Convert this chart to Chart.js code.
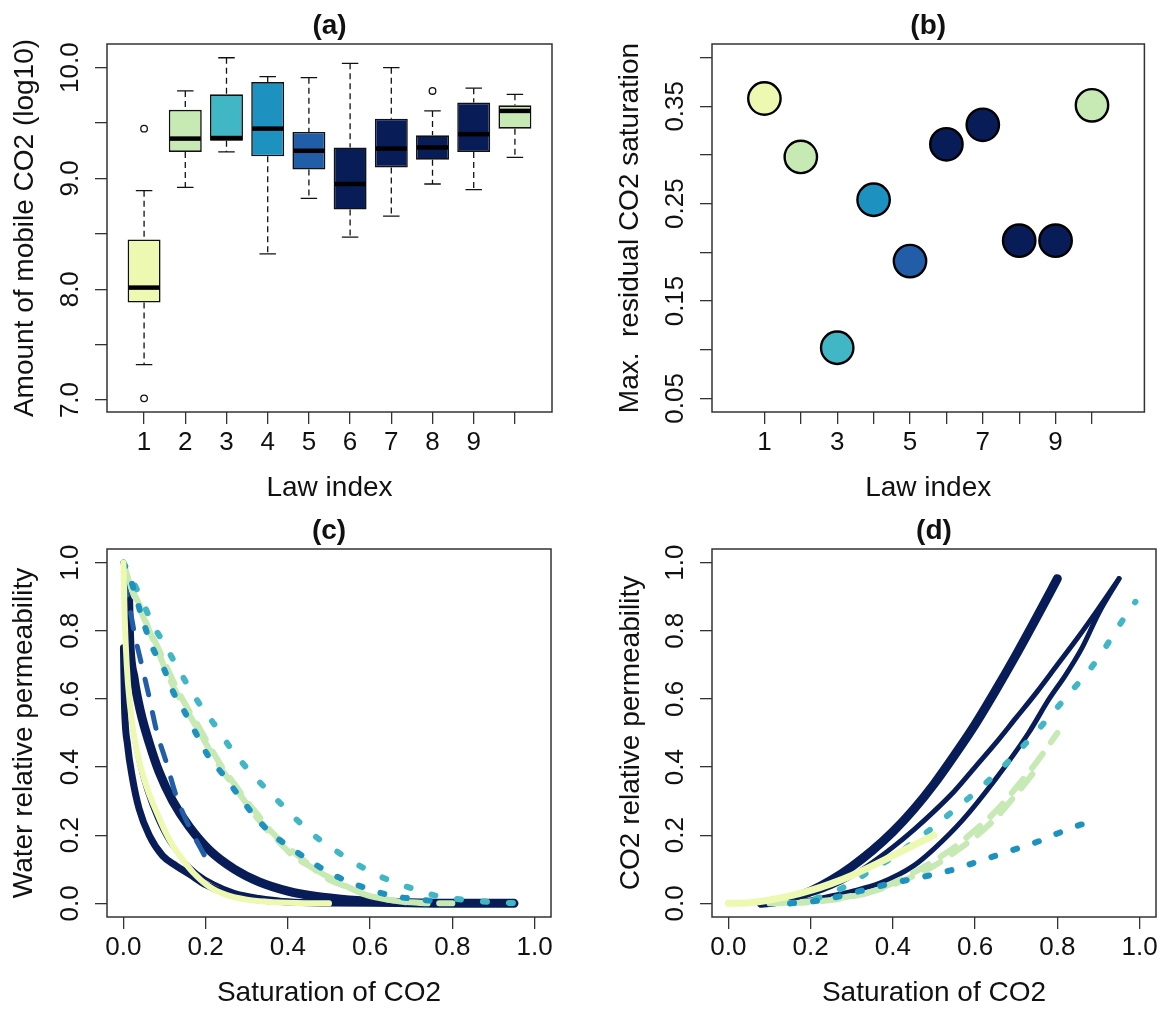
<!DOCTYPE html>
<html>
<head>
<meta charset="utf-8">
<script src="https://cdn.jsdelivr.net/npm/chart.js@4.4.1/dist/chart.umd.min.js"></script>
<style>
  html, body { margin: 0; padding: 0; background: #fff; }
  #fig { position: relative; width: 1163px; height: 1010px; }
  #fig canvas { position: absolute; }
</style>
</head>
<body>
<div id="fig">
  <canvas id="panelA" width="581" height="505" style="left:0;top:0"></canvas>
  <canvas id="panelB" width="582" height="505" style="left:581px;top:0"></canvas>
  <canvas id="panelC" width="581" height="505" style="left:0;top:505px"></canvas>
  <canvas id="panelD" width="582" height="505" style="left:581px;top:505px"></canvas>
</div>
<script>
// ---- laws and their colours ----
const lawIndex = [1, 2, 3, 4, 5, 6, 7, 8, 9, 10];
const lawColors = ['#edf8b1', '#c7e9b4', '#41b6c4', '#1d91c0', '#225ea8',
                   '#081d58', '#081d58', '#081d58', '#081d58', '#c7e9b4'];

// ---- (a) mobile CO2, log10, box statistics per law ----
const whiskerLow  = [7.32, 8.92, 9.24, 8.32, 8.82, 8.47, 8.66, 8.95, 8.90, 9.19];
const boxQ1       = [7.88, 9.24, 9.34, 9.20, 9.08, 8.72, 9.10, 9.17, 9.24, 9.45];
const boxMedian   = [8.015, 9.36, 9.365, 9.45, 9.25, 8.95, 9.27, 9.28, 9.40, 9.61];
const boxQ3       = [8.45, 9.62, 9.76, 9.87, 9.42, 9.28, 9.54, 9.39, 9.685, 9.66];
const whiskerHigh = [8.89, 9.79, 10.09, 9.92, 9.91, 10.04, 10.0, 9.61, 9.815, 9.76];
const outlierLaw   = [1, 1, 8];
const outlierValue = [9.45, 7.015, 9.79];

// ---- (b) max residual CO2 saturation per law ----
const maxResidual = [0.358, 0.298, 0.102, 0.254, 0.191, 0.311, 0.331, 0.212, 0.212, 0.351];

// ---- (c) water relative permeability vs CO2 saturation ----
const satC1 = [0, 0.003, 0.008, 0.015, 0.026, 0.04, 0.06, 0.08, 0.10, 0.12, 0.14, 0.17, 0.21, 0.25, 0.30, 0.35, 0.42, 0.50];
const krwC1 = [1, 0.84, 0.70, 0.59, 0.49, 0.41, 0.33, 0.27, 0.215, 0.17, 0.135, 0.09, 0.048, 0.025, 0.011, 0.005, 0.001, 0];
const satC2 = [0, 0.018, 0.038, 0.063, 0.087, 0.111, 0.136, 0.16, 0.184, 0.217, 0.249, 0.282, 0.314, 0.347, 0.379, 0.412, 0.46, 0.50, 0.54, 0.59, 0.64, 0.69, 0.74];
const krwC2 = [1, 0.928, 0.879, 0.80, 0.731, 0.662, 0.603, 0.554, 0.504, 0.435, 0.376, 0.322, 0.268, 0.219, 0.18, 0.14, 0.104, 0.07, 0.05, 0.025, 0.011, 0.003, 0];
const satC3 = [0, 0.022, 0.047, 0.071, 0.10, 0.132, 0.16, 0.192, 0.225, 0.261, 0.298, 0.343, 0.383, 0.428, 0.473, 0.517, 0.562, 0.614, 0.663, 0.712, 0.765, 0.818, 0.87, 0.92, 0.99];
const krwC3 = [1, 0.948, 0.884, 0.82, 0.76, 0.692, 0.633, 0.573, 0.519, 0.455, 0.40, 0.341, 0.292, 0.238, 0.191, 0.154, 0.119, 0.085, 0.06, 0.04, 0.021, 0.012, 0.006, 0.002, 0];
const satC4 = [0, 0.018, 0.05, 0.071, 0.099, 0.12, 0.148, 0.176, 0.205, 0.245, 0.28, 0.318, 0.36, 0.407, 0.452, 0.505, 0.562, 0.614, 0.663, 0.716, 0.76];
const krwC4 = [1, 0.948, 0.82, 0.75, 0.687, 0.623, 0.564, 0.50, 0.435, 0.374, 0.317, 0.258, 0.205, 0.163, 0.126, 0.087, 0.057, 0.035, 0.02, 0.012, 0.006];
const satC5 = [0, 0.012, 0.028, 0.046, 0.064, 0.081, 0.105, 0.128, 0.16, 0.193, 0.21];
const krwC5 = [0.95, 0.889, 0.785, 0.692, 0.598, 0.504, 0.411, 0.317, 0.225, 0.15, 0.11];
const satC6 = [0.012, 0.015, 0.026, 0.042, 0.063, 0.087, 0.12, 0.16, 0.21, 0.27, 0.33, 0.40, 0.47, 0.55, 0.63, 0.72, 0.80, 0.95];
const krwC6 = [0.92, 0.78, 0.66, 0.56, 0.47, 0.385, 0.30, 0.225, 0.155, 0.10, 0.063, 0.036, 0.02, 0.01, 0.004, 0.001, 0, 0];
const satC7 = [0.004, 0.01, 0.02, 0.035, 0.055, 0.08, 0.11, 0.14, 0.18, 0.22, 0.27, 0.33, 0.40, 0.50, 0.60, 0.70, 0.95];
const krwC7 = [0.80, 0.65, 0.52, 0.42, 0.33, 0.25, 0.18, 0.135, 0.09, 0.06, 0.035, 0.02, 0.01, 0.004, 0.001, 0, 0];
const satC8 = [0, 0.0025, 0.01, 0.022, 0.038, 0.063, 0.095, 0.128, 0.16, 0.20, 0.25, 0.30, 0.40, 0.50, 0.60, 0.80];
const krwC8 = [0.75, 0.583, 0.465, 0.367, 0.278, 0.199, 0.14, 0.11, 0.086, 0.055, 0.03, 0.015, 0.004, 0.001, 0, 0];
const satC10 = [0.01, 0.03, 0.06, 0.09, 0.12, 0.15, 0.18, 0.21, 0.24, 0.27, 0.30, 0.33, 0.36, 0.40, 0.44, 0.48, 0.52, 0.56, 0.60, 0.65, 0.70, 0.80];
const krwC10 = [0.95, 0.89, 0.81, 0.735, 0.655, 0.585, 0.525, 0.46, 0.40, 0.35, 0.30, 0.255, 0.21, 0.165, 0.125, 0.09, 0.065, 0.04, 0.022, 0.01, 0.003, 0];

// ---- (d) CO2 relative permeability vs CO2 saturation ----
const satD1 = [0, 0.05, 0.10, 0.15, 0.20, 0.25, 0.30, 0.35, 0.40, 0.45, 0.50];
const krgD1 = [0, 0.002, 0.01, 0.022, 0.038, 0.058, 0.082, 0.11, 0.14, 0.17, 0.20];
const satD2 = [0.10, 0.15, 0.20, 0.25, 0.30, 0.35, 0.40, 0.45, 0.50, 0.55, 0.60, 0.65, 0.70, 0.74];
const krgD2 = [0, 0.002, 0.006, 0.012, 0.022, 0.035, 0.055, 0.08, 0.11, 0.15, 0.195, 0.25, 0.32, 0.38];
const satD3 = [0.15, 0.20, 0.25, 0.30, 0.35, 0.40, 0.45, 0.50, 0.55, 0.60, 0.65, 0.70, 0.75, 0.80, 0.85, 0.90, 0.95, 0.99];
const krgD3 = [0, 0.01, 0.03, 0.06, 0.10, 0.135, 0.18, 0.225, 0.275, 0.325, 0.38, 0.44, 0.505, 0.575, 0.645, 0.72, 0.815, 0.885];
const satD4 = [0.15, 0.20, 0.25, 0.30, 0.35, 0.40, 0.45, 0.50, 0.55, 0.60, 0.65, 0.70, 0.75, 0.80, 0.85, 0.90];
const krgD4 = [0, 0.005, 0.015, 0.03, 0.045, 0.06, 0.072, 0.085, 0.10, 0.12, 0.14, 0.16, 0.18, 0.205, 0.228, 0.245];
const satD6 = [0.08, 0.15, 0.20, 0.25, 0.30, 0.35, 0.40, 0.45, 0.50, 0.55, 0.60, 0.65, 0.70, 0.75, 0.80, 0.85, 0.90, 0.95];
const krgD6 = [0, 0.01, 0.028, 0.05, 0.08, 0.12, 0.165, 0.215, 0.27, 0.33, 0.40, 0.47, 0.545, 0.62, 0.70, 0.78, 0.865, 0.953];
const satD7 = [0.10, 0.20, 0.25, 0.30, 0.37, 0.45, 0.50, 0.57, 0.65, 0.73, 0.78, 0.82, 0.86, 0.90, 0.95];
const krgD7 = [0, 0.01, 0.022, 0.035, 0.06, 0.11, 0.16, 0.245, 0.365, 0.50, 0.60, 0.67, 0.75, 0.85, 0.953];
const satD8 = [0.08, 0.12, 0.16, 0.20, 0.25, 0.30, 0.35, 0.40, 0.45, 0.50, 0.55, 0.60, 0.65, 0.70, 0.75, 0.80];
const krgD8 = [0, 0.006, 0.018, 0.036, 0.068, 0.108, 0.155, 0.21, 0.275, 0.35, 0.435, 0.525, 0.625, 0.73, 0.84, 0.953];
const satD10 = [0.15, 0.20, 0.25, 0.30, 0.35, 0.40, 0.45, 0.50, 0.55, 0.60, 0.65, 0.70, 0.75, 0.80];
const krgD10 = [0, 0.004, 0.01, 0.02, 0.035, 0.06, 0.09, 0.125, 0.165, 0.215, 0.27, 0.34, 0.415, 0.50];

// ---- tick positions and labels ----
const lawTicks = [1, 2, 3, 4, 5, 6, 7, 8, 9, 10];
const lawLabelsA = ['1', '2', '3', '4', '5', '6', '7', '8', '9', ''];
const lawLabelsB = ['1', '', '3', '', '5', '', '7', '', '9', ''];
const mobileTicks = [7, 7.5, 8, 8.5, 9, 9.5, 10];
const mobileLabels = ['7.0', '', '8.0', '', '9.0', '', '10.0'];
const residualTicks = [0.05, 0.10, 0.15, 0.20, 0.25, 0.30, 0.35, 0.40];
const residualLabels = ['0.05', '', '0.15', '', '0.25', '', '0.35', ''];
const unitTicks = [0, 0.2, 0.4, 0.6, 0.8, 1.0];
const unitLabels = ['0.0', '0.2', '0.4', '0.6', '0.8', '1.0'];

// ---- shared styling ----
const FONT = "'Liberation Sans', Arial, Helvetica, sans-serif";
const INK = '#111';
const tickFont = { family: FONT, size: 26 };
const labFont = { family: FONT, size: 28 };
const headFont = { family: FONT, size: 28, weight: 'bold' };

Chart.defaults.animation = false;
Chart.defaults.color = INK;

const pinTicks = values => scale => { scale.ticks = values.map(v => ({ value: v })); };

const tickMarks = { drawOnChartArea: false, drawTicks: true, tickLength: 12, color: '#333', lineWidth: 1.3 };

function xAxis(min, max, values, labels, title) {
  return {
    type: 'linear', position: 'bottom', min, max, bounds: 'data', offset: false,
    afterBuildTicks: pinTicks(values),
    afterFit: s => { s.height = 93; },
    grid: { ...tickMarks, offset: false },
    border: { display: false },
    ticks: { autoSkip: false, maxRotation: 0, minRotation: 0, padding: 3, font: tickFont, color: INK,
             callback: (v, i) => labels[i] },
    title: { display: true, text: title, font: labFont, color: INK, padding: { top: 0, bottom: 0 } }
  };
}

function yAxis(min, max, values, title, width, titlePad) {
  return {
    type: 'linear', position: 'left', min, max, bounds: 'data',
    afterBuildTicks: pinTicks(values),
    afterFit: s => { s.width = width; },
    grid: tickMarks,
    border: { display: false },
    ticks: { display: false },
    title: { display: true, text: title, font: labFont, color: INK, padding: { top: titlePad, bottom: 0 } }
  };
}

function panelPlugins(head, values, labels) {
  return {
    legend: { display: false },
    tooltip: { enabled: false },
    title: { display: true, text: head, font: headFont, color: INK, fullSize: false, padding: { top: 9, bottom: 1.4 } },
    sideLabels: { values, labels }
  };
}

// box around the plotting region
const frame = {
  id: 'frame',
  afterDraw(chart) {
    const { ctx, chartArea: a } = chart;
    ctx.save();
    ctx.strokeStyle = '#333';
    ctx.lineWidth = 1.5;
    ctx.strokeRect(a.left, a.top, a.right - a.left, a.bottom - a.top);
    ctx.restore();
  }
};

// y tick labels written parallel to the axis
const sideLabels = {
  id: 'sideLabels',
  afterDraw(chart, args, opts) {
    const { ctx, chartArea } = chart;
    const y = chart.scales.y;
    ctx.save();
    ctx.font = `26px ${FONT}`;
    ctx.fillStyle = INK;
    ctx.textAlign = 'center';
    ctx.textBaseline = 'middle';
    opts.values.forEach((v, i) => {
      if (!opts.labels[i]) return;
      ctx.save();
      ctx.translate(chartArea.left - 36, y.getPixelForValue(v));
      ctx.rotate(-Math.PI / 2);
      ctx.fillText(opts.labels[i], 0, 0);
      ctx.restore();
    });
    ctx.restore();
  }
};

// whiskers, caps and medians for the box plot
const boxParts = {
  id: 'boxParts',
  beforeDatasetsDraw(chart) {
    const { ctx, scales: { x, y } } = chart;
    const bars = chart.getDatasetMeta(1).data;
    ctx.save();
    ctx.strokeStyle = INK;
    ctx.lineWidth = 1.3;
    lawIndex.forEach((k, i) => {
      const px = x.getPixelForValue(k);
      const cap = bars[i].width / 4;
      ctx.setLineDash([6, 4]);
      ctx.beginPath();
      ctx.moveTo(px, y.getPixelForValue(whiskerHigh[i]));
      ctx.lineTo(px, y.getPixelForValue(boxQ3[i]));
      ctx.moveTo(px, y.getPixelForValue(boxQ1[i]));
      ctx.lineTo(px, y.getPixelForValue(whiskerLow[i]));
      ctx.stroke();
      ctx.setLineDash([]);
      ctx.beginPath();
      [whiskerHigh[i], whiskerLow[i]].forEach(v => {
        const py = y.getPixelForValue(v);
        ctx.moveTo(px - cap, py);
        ctx.lineTo(px + cap, py);
      });
      ctx.stroke();
    });
    ctx.restore();
  },
  afterDatasetsDraw(chart) {
    const { ctx, scales: { x, y } } = chart;
    const bars = chart.getDatasetMeta(1).data;
    ctx.save();
    ctx.strokeStyle = '#000';
    ctx.lineWidth = 4.5;
    lawIndex.forEach((k, i) => {
      const px = x.getPixelForValue(k);
      const half = bars[i].width / 2 - 1;
      const py = y.getPixelForValue(boxMedian[i]);
      ctx.beginPath();
      ctx.moveTo(px - half, py);
      ctx.lineTo(px + half, py);
      ctx.stroke();
    });
    ctx.restore();
  }
};

// ---- (a) ----
new Chart(document.getElementById('panelA'), {
  type: 'bar',
  data: {
    datasets: [
      {
        type: 'scatter',
        data: outlierLaw.map((k, i) => ({ x: k, y: outlierValue[i] })),
        pointRadius: 3.3, pointBorderWidth: 1.3,
        pointBorderColor: INK, pointBackgroundColor: 'rgba(0,0,0,0)',
        order: 0
      },
      {
        type: 'bar',
        data: lawIndex.map((k, i) => ({ x: k, y: [boxQ1[i], boxQ3[i]] })),
        backgroundColor: lawColors, borderColor: INK, borderWidth: 1.6, borderSkipped: false,
        barPercentage: 0.8, categoryPercentage: 1,
        order: 1
      }
    ]
  },
  options: {
    responsive: false, events: [],
    layout: { padding: { left: 0, right: 29, top: 0, bottom: 0 } },
    scales: {
      x: xAxis(0.1, 10.9, lawTicks, lawLabelsA, 'Law index'),
      y: yAxis(6.892, 10.214, mobileTicks, 'Amount of mobile CO2 (log10)', 107, 8)
    },
    plugins: panelPlugins('(a)', mobileTicks, mobileLabels)
  },
  plugins: [boxParts, sideLabels, frame]
});

// ---- (b) ----
new Chart(document.getElementById('panelB'), {
  type: 'scatter',
  data: {
    datasets: [{
      data: lawIndex.map((k, i) => ({ x: k, y: maxResidual[i] })),
      pointRadius: 16.2, pointBorderWidth: 2.4,
      pointBorderColor: '#000', pointBackgroundColor: lawColors
    }]
  },
  options: {
    responsive: false, events: [],
    layout: { padding: { left: 0, right: 6, top: 0, bottom: 0 } },
    scales: {
      x: xAxis(-0.44, 11.44, lawTicks, lawLabelsB, 'Law index'),
      y: yAxis(0.036, 0.414, residualTicks, 'Max.  residual CO2 saturation', 131, 32)
    },
    plugins: panelPlugins('(b)', residualTicks, residualLabels)
  },
  plugins: [sideLabels, frame]
});

// ---- (c) and (d): one line per law ----
function curve(sat, kr, law, width, dash) {
  return {
    data: sat.map((s, i) => ({ x: s, y: kr[i] })),
    borderColor: lawColors[law - 1], borderWidth: width, borderDash: dash,
    borderCapStyle: 'round', borderJoinStyle: 'round',
    pointRadius: 0, fill: false, cubicInterpolationMode: 'monotone'
  };
}

const dotted = [4, 22];
const dottedBlue = [4, 19];
const longDash = [18, 14];
const midDash = [16, 18];

// curves are listed bottom layer first
function curvePanel(id, head, ytitle, ytitlePad, areaLeft, padRight, curves) {
  curves.forEach((c, i) => { c.order = curves.length - i; });
  new Chart(document.getElementById(id), {
    type: 'line',
    data: { datasets: curves },
    options: {
      responsive: false, events: [],
      layout: { padding: { left: 0, right: padRight, top: 0, bottom: 0 } },
      scales: {
        x: xAxis(-0.04, 1.04, unitTicks, unitLabels, 'Saturation of CO2'),
        y: yAxis(-0.04, 1.04, unitTicks, ytitle, areaLeft, ytitlePad)
      },
      plugins: panelPlugins(head, unitTicks, unitLabels)
    },
    plugins: [sideLabels, frame]
  });
}

curvePanel('panelC', '(c)', 'Water relative permeability', 7, 107, 30, [
  curve(satC6, krwC6, 6, 9, []),
  curve(satC7, krwC7, 7, 3, []),
  curve(satC8, krwC8, 8, 7, []),
  curve(satC2, krwC2, 2, 6, longDash),
  curve(satC10, krwC10, 10, 6, longDash),
  curve(satC3, krwC3, 3, 6, dotted),
  curve(satC4, krwC4, 4, 6, dottedBlue),
  curve(satC5, krwC5, 5, 5, midDash),
  curve(satC1, krwC1, 1, 6, [])
]);

curvePanel('panelD', '(d)', 'CO2 relative permeability', 33, 131, 7, [
  curve(satD6, krgD6, 6, 5, []),
  curve(satD7, krgD7, 7, 5, []),
  curve(satD8, krgD8, 8, 9, []),
  curve(satD2, krgD2, 2, 6, longDash),
  curve(satD10, krgD10, 10, 6, longDash),
  curve(satD3, krgD3, 3, 6, dotted),
  curve(satD4, krgD4, 4, 6, dottedBlue),
  curve(satD1, krgD1, 1, 7, [])
]);
</script>
</body>
</html>
